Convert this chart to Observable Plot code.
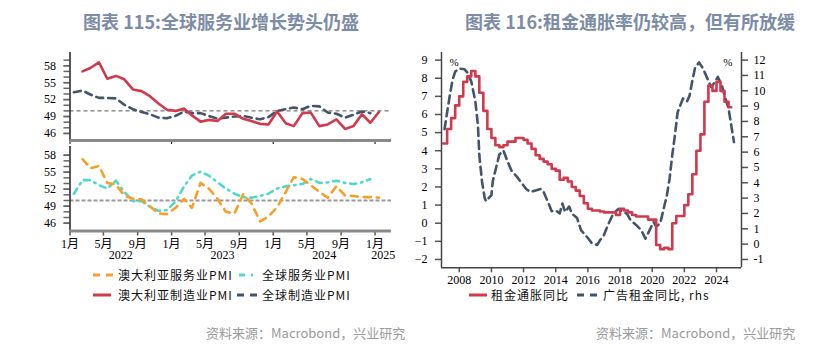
<!DOCTYPE html>
<html>
<head>
<meta charset="utf-8">
<script src="https://cdn.jsdelivr.net/npm/d3@7"></script>
<script src="https://cdn.jsdelivr.net/npm/@observablehq/plot@0.6"></script>
<style>
  html,body{margin:0;padding:0;background:#fff;}
  #root{position:relative;width:835px;height:353px;overflow:hidden;background:#fff;font-family:"Noto Sans CJK SC","Noto Sans",sans-serif;}
  .abs{position:absolute;}
  .title{position:absolute;top:8px;font-size:18px;font-weight:700;color:#7d8ca6;white-space:nowrap;transform:translateX(-50%);line-height:26px;}
  .legtxt{position:absolute;font-size:12px;letter-spacing:1px;color:#111;white-space:nowrap;line-height:16px;font-family:"Noto Sans CJK SC",sans-serif;}
  .src{position:absolute;font-size:13px;color:#9a9a9a;white-space:nowrap;line-height:18px;}
</style>
</head>
<body>
<div id="root">
  <div class="title" style="left:221px">图表 115:全球服务业增长势头仍盛</div>
  <div class="title" style="left:630px">图表 116:租金通胀率仍较高，但有所放缓</div>
  <div id="lt" class="abs" style="left:0;top:44px"></div>
  <div id="lb" class="abs" style="left:0;top:144px"></div>
  <div id="rc" class="abs" style="left:410px;top:44px"></div>
  <div class="src" style="left:206px;top:324px">资料来源：Macrobond，兴业研究</div>
  <div class="src" style="left:596px;top:324px">资料来源：Macrobond，兴业研究</div>
</div>
<script>
// ---------- Left chart data (PMI) ----------
const months = [
  "2022-01","2022-02","2022-03","2022-04","2022-05","2022-06","2022-07","2022-08","2022-09","2022-10","2022-11","2022-12",
  "2023-01","2023-02","2023-03","2023-04","2023-05","2023-06","2023-07","2023-08","2023-09","2023-10","2023-11","2023-12",
  "2024-01","2024-02","2024-03","2024-04","2024-05","2024-06","2024-07","2024-08","2024-09","2024-10","2024-11","2024-12",
  "2025-01"
];
const ausMfg = [null,57.0,57.6,58.6,55.7,56.2,55.6,53.8,53.5,52.6,51.3,50.2,
  50.0,50.4,49.2,48.1,48.4,48.2,49.5,49.5,48.6,48.2,47.7,47.6,
  49.9,47.8,47.3,49.6,49.7,47.3,47.6,48.5,46.8,47.3,49.4,47.9,49.8];
const globalMfg = [53.3,53.6,52.9,52.3,52.3,52.2,51.1,50.3,49.8,49.4,48.8,48.7,
  49.1,49.9,49.6,49.6,49.1,48.6,48.8,49.0,49.1,48.8,48.5,48.9,
  50.0,50.3,50.6,50.3,50.9,50.8,49.7,49.5,48.8,49.3,49.9,49.6,null];
const ausSvc = [null,57.3,55.7,56.1,53.1,52.8,50.9,50.3,50.2,49.0,47.7,47.6,
  48.7,50.3,48.7,53.1,52.1,50.3,48.0,47.7,51.1,49.5,46.3,47.2,
  48.8,51.5,54.1,53.8,52.7,51.5,50.5,52.5,50.9,50.8,50.6,50.6,50.5];
const globalSvc = [51.2,53.6,53.6,52.7,52.1,53.5,51.5,49.9,49.9,48.9,48.2,48.3,
  49.8,52.5,54.4,55.1,54.4,53.2,52.1,51.2,50.6,50.5,50.8,51.2,
  52.1,52.5,52.7,52.9,53.8,53.1,53.2,53.5,53.1,52.9,53.2,53.8,null];
const pmiTickMonths = ["2022-01","2022-05","2022-09","2023-01","2023-05","2023-09","2024-01","2024-05","2024-09","2025-01"];
const pmiYears = [2022, 2023, 2024, 2025];
const pmiYTicksLabeled = [46, 49, 52, 55, 58];

// ---------- Right chart data (rents) ----------
const rentQuarters = [
  "2007-01","2007-04","2007-07","2007-10","2008-01","2008-04","2008-07","2008-10",
  "2009-01","2009-04","2009-07","2009-10","2010-01","2010-04","2010-07","2010-10",
  "2011-01","2011-04","2011-07","2011-10","2012-01","2012-04","2012-07","2012-10",
  "2013-01","2013-04","2013-07","2013-10","2014-01","2014-04","2014-07","2014-10",
  "2015-01","2015-04","2015-07","2015-10","2016-01","2016-04","2016-07","2016-10",
  "2017-01","2017-04","2017-07","2017-10","2018-01","2018-04","2018-07","2018-10",
  "2019-01","2019-04","2019-07","2019-10","2020-01","2020-04","2020-07","2020-10",
  "2021-01","2021-04","2021-07","2021-10","2022-01","2022-04","2022-07","2022-10",
  "2023-01","2023-04","2023-07","2023-10","2024-01","2024-04","2024-07","2024-10","2024-12"
];
const rentCpi = [
  4.4,5.2,5.8,6.5, 7.0,7.8,8.1,8.4,
  8.1,7.2,6.2,5.2, 4.7,4.3,4.2,4.3,
  4.5,4.5,4.7,4.7, 4.6,4.4,4.1,3.75,
  3.55,3.4,3.25,3.0, 2.9,2.4,2.5,2.3,
  2.0,1.8,1.5,1.1, 0.8,0.7,0.7,0.65,
  0.6,0.6,0.6,0.45, 0.8,0.7,0.6,0.45,
  0.37,0.37,0.37,0.2, 0.2,-1.2,-1.43,-1.35,
  -1.43,0.0,0.4,0.4, 1.0,1.6,2.7,4.0,
  4.9,6.7,7.6,7.3, 7.8,7.3,6.7,6.4,6.4
];
const adMonths = [
  "2007-02","2007-04","2007-06","2007-08","2007-10","2008-01","2008-05","2008-07","2008-10",
  "2009-01","2009-03","2009-04","2009-06","2009-08","2009-09","2010-01","2010-02","2010-05","2010-07","2010-10",
  "2011-01","2011-04","2011-08","2011-11","2012-03","2012-06","2012-10","2013-02","2013-04","2013-07","2013-10",
  "2014-01","2014-04","2014-06","2014-08","2014-11","2015-01","2015-05","2015-08","2016-01","2016-04","2016-08","2016-10",
  "2017-01","2017-04","2017-08","2017-12","2018-03","2018-06","2018-09","2019-01","2019-05","2019-08","2019-11",
  "2020-02","2020-04","2020-07","2020-09","2020-12","2021-02","2021-04","2021-06","2021-08","2021-12",
  "2022-03","2022-05","2022-07","2022-09","2022-12","2023-03","2023-07","2023-09","2023-12",
  "2024-02","2024-05","2024-07","2024-10","2024-12","2025-02"
];
const adRents = [
  7.5,8.6,9.7,10.7,11.25,11.45,11.4,11.2,10.6,
  9.3,7.75,5.8,4.1,3.0,2.8,3.2,4.1,5.15,5.85,6.1,
  5.4,4.8,4.4,4.05,3.6,3.4,3.5,3.6,3.4,2.8,2.15,
  2.2,2.0,2.65,2.1,2.45,2.0,1.7,0.9,0.4,0.05,-0.05,0.25,
  0.6,1.25,2.0,2.3,2.1,2.0,1.55,1.25,0.9,0.35,0.9,
  1.45,1.15,1.35,2.1,3.2,4.3,5.8,7.1,8.6,9.5,
  9.3,9.7,10.65,11.5,11.85,11.45,10.65,10.25,10.6,
  10.9,10.35,9.7,8.85,7.75,6.65
];
const rentYearTicks = [2008,2010,2012,2014,2016,2018,2020,2022,2024];
const rentLeftTicks = [-2,-1,0,1,2,3,4,5,6,7,8,9];
const rentRightTicks = [-1,0,1,2,3,4,5,6,7,8,9,10,11,12];

// ---------- helpers ----------
const parseM = d3.utcParse("%Y-%m");
const midMonth = s => d3.utcDay.offset(parseM(s), 14);
const serif = '"Liberation Serif","Noto Sans CJK SC",serif';
const C = {red:"#d1394d", navy:"#44546a", orange:"#f5a028", cyan:"#4dd9cf"};

const pmiXDomain = [new Date(Date.UTC(2022,0,1)), new Date(Date.UTC(2025,2,1))];
const rows = arr => months.map((m,i) => ({date: midMonth(m), v: arr[i]}));

// ---------- Left top panel ----------
const topY = [44.75, 60.35];
const lt = Plot.plot({
  width: 400, height: 100,
  marginLeft: 69.5, marginRight: 9, marginTop: 8, marginBottom: 4,
  style: {background:"transparent", fontFamily: serif, fontSize:"12px", color:"#000"},
  x: {type:"utc", domain: pmiXDomain},
  y: {domain: topY},
  marks: [
    Plot.ruleY([50], {stroke:"#555", strokeWidth:1, strokeDasharray:"4,3"}),
    Plot.line(rows(globalMfg), {x:"date", y:"v", stroke:C.navy, strokeWidth:2.6, strokeDasharray:"7,5"}),
    Plot.line(rows(ausMfg), {x:"date", y:"v", stroke:C.red, strokeWidth:2.6}),
    Plot.axisY(d3.range(46,60), {anchor:"left", tickSize:6, tickFormat:()=> "", stroke:"#666", strokeWidth:1.5, label:null}),
    Plot.axisY(pmiYTicksLabeled, {anchor:"left", tickSize:6, tickPadding:8, stroke:"#666", strokeWidth:1.5, label:null}),
    Plot.ruleX([pmiXDomain[0]], {stroke:"#222", strokeWidth:1.5}),
    Plot.ruleY([topY[0]], {stroke:"#8a8a8a", strokeWidth:3})
  ]
});
document.getElementById("lt").appendChild(lt);

// ---------- Left bottom panel ----------
const botY = [44.62, 59.53];
const yearRows = pmiYears.map(y => {
  const a = Math.max(Date.UTC(y,0,1), +pmiXDomain[0]);
  const b = Math.min(Date.UTC(y+1,0,1), +pmiXDomain[1]);
  return {mid: new Date((a+b)/2), label: String(y)};
});
const lb = Plot.plot({
  width: 400, height: 126,
  marginLeft: 69.5, marginRight: 9, marginTop: 2, marginBottom: 39.5,
  style: {background:"transparent", fontFamily: serif, fontSize:"12px", color:"#000"},
  x: {type:"utc", domain: pmiXDomain},
  y: {domain: botY},
  marks: [
    Plot.ruleY([50], {stroke:"#9a9a9a", strokeWidth:2, strokeDasharray:"4,2"}),
    Plot.line(rows(globalSvc), {x:"date", y:"v", stroke:C.cyan, strokeWidth:2.6, strokeDasharray:"6,5,1.5,5"}),
    Plot.line(rows(ausSvc), {x:"date", y:"v", stroke:C.orange, strokeWidth:2.6, strokeDasharray:"7,6"}),
    Plot.axisY(d3.range(46,59), {anchor:"left", tickSize:6, tickFormat:()=> "", stroke:"#666", strokeWidth:1.5, label:null}),
    Plot.axisY(pmiYTicksLabeled, {anchor:"left", tickSize:6, tickPadding:8, stroke:"#666", strokeWidth:1.5, label:null}),
    Plot.axisX(pmiTickMonths.map(parseM), {anchor:"bottom", tickSize:5, tickPadding:3, stroke:"#555", strokeWidth:1.5,
      tickFormat: d => (d.getUTCMonth()+1) + "月", label:null}),
    Plot.text(yearRows, {x:"mid", text:"label", frameAnchor:"bottom", dy:28, fontSize:12}),
    Plot.ruleX([pmiXDomain[0]], {stroke:"#222", strokeWidth:1.5}),
    Plot.ruleY([botY[0]], {stroke:"#8a8a8a", strokeWidth:3})
  ]
});
document.getElementById("lb").appendChild(lb);

// ---------- Right chart ----------
const rXDomain = [new Date(Date.UTC(2006,10,24)), new Date(Date.UTC(2025,6,22))];
const rYDomain = [-2.46, 9.42];
const toLeft = r => -2 + (r + 1) * 11 / 13;
const fromLeft = l => (l + 2) * 13 / 11 - 1;
const redRows = rentQuarters.map((q,i) => ({date: parseM(q), v: rentCpi[i]}));
const adRows = adMonths.map((m,i) => ({date: parseM(m), v: toLeft(adRents[i])}));
const rc = Plot.plot({
  width: 420, height: 246,
  marginLeft: 31, marginRight: 89, marginTop: 8, marginBottom: 22.7,
  style: {background:"transparent", fontFamily: serif, fontSize:"12px", color:"#000"},
  x: {type:"utc", domain: rXDomain},
  y: {domain: rYDomain},
  marks: [
    Plot.line(adRows, {x:"date", y:"v", stroke:C.navy, strokeWidth:2.6, strokeDasharray:"8,5"}),
    Plot.line(redRows, {x:"date", y:"v", stroke:C.red, strokeWidth:2.6, curve:"step-after"}),
    Plot.axisY(rentLeftTicks, {anchor:"left", tickSize:6, tickPadding:8, stroke:"#555", strokeWidth:1.5, label:null}),
    Plot.axisY(rentRightTicks.map(toLeft), {anchor:"right", tickSize:6, tickPadding:6, stroke:"#555", strokeWidth:1.5, label:null,
      tickFormat: v => String(Math.round(fromLeft(v)))}),
    Plot.axisX(rentYearTicks.map(y => new Date(Date.UTC(y,0,1))), {anchor:"bottom", tickSize:5, tickPadding:3, stroke:"#555", strokeWidth:1.5,
      tickFormat: d => String(d.getUTCFullYear()), label:null}),
    Plot.ruleX([rXDomain[0]], {stroke:"#444", strokeWidth:1.5}),
    Plot.ruleX([rXDomain[1]], {stroke:"#444", strokeWidth:1.5}),
    Plot.ruleY([rYDomain[0]], {stroke:"#444", strokeWidth:1.5}),
    Plot.text(["%"], {frameAnchor:"top-left", dx:8, dy:6, fontSize:11}),
    Plot.text(["%"], {frameAnchor:"top-right", dx:-9, dy:6, fontSize:11})
  ]
});
document.getElementById("rc").appendChild(rc);

// ---------- Legends ----------
const root = document.getElementById("root");
function legend(x0, x1, cy, stroke, dash, width, textX, label) {
  const w = x1 - x0;
  const ns = "http://www.w3.org/2000/svg";
  const svg = document.createElementNS(ns, "svg");
  svg.setAttribute("width", w); svg.setAttribute("height", 6);
  svg.style.position = "absolute"; svg.style.left = x0 + "px"; svg.style.top = (cy - 3) + "px";
  const ln = document.createElementNS(ns, "line");
  ln.setAttribute("x1", 0); ln.setAttribute("x2", w); ln.setAttribute("y1", 3); ln.setAttribute("y2", 3);
  ln.setAttribute("stroke", stroke); ln.setAttribute("stroke-width", width);
  if (dash) ln.setAttribute("stroke-dasharray", dash);
  svg.appendChild(ln); root.appendChild(svg);
  const t = document.createElement("div");
  t.className = "legtxt"; t.textContent = label;
  t.style.left = textX + "px"; t.style.top = (cy - 8) + "px";
  root.appendChild(t);
}
legend(93, 113, 275, C.orange, "7,6", 3, 118, "澳大利亚服务业PMI");
legend(239, 256, 275, C.cyan, "6,6,2,6", 3, 262, "全球服务业PMI");
legend(93, 111, 295, C.red, null, 3, 118, "澳大利亚制造业PMI");
legend(237, 257, 295, C.navy, "7,6", 3, 262, "全球制造业PMI");
legend(469, 487, 295, C.red, null, 3, 491, "租金通胀同比");
legend(577, 597, 295, C.navy, "7,6", 3, 603, "广告租金同比, rhs");
</script>
</body>
</html>
